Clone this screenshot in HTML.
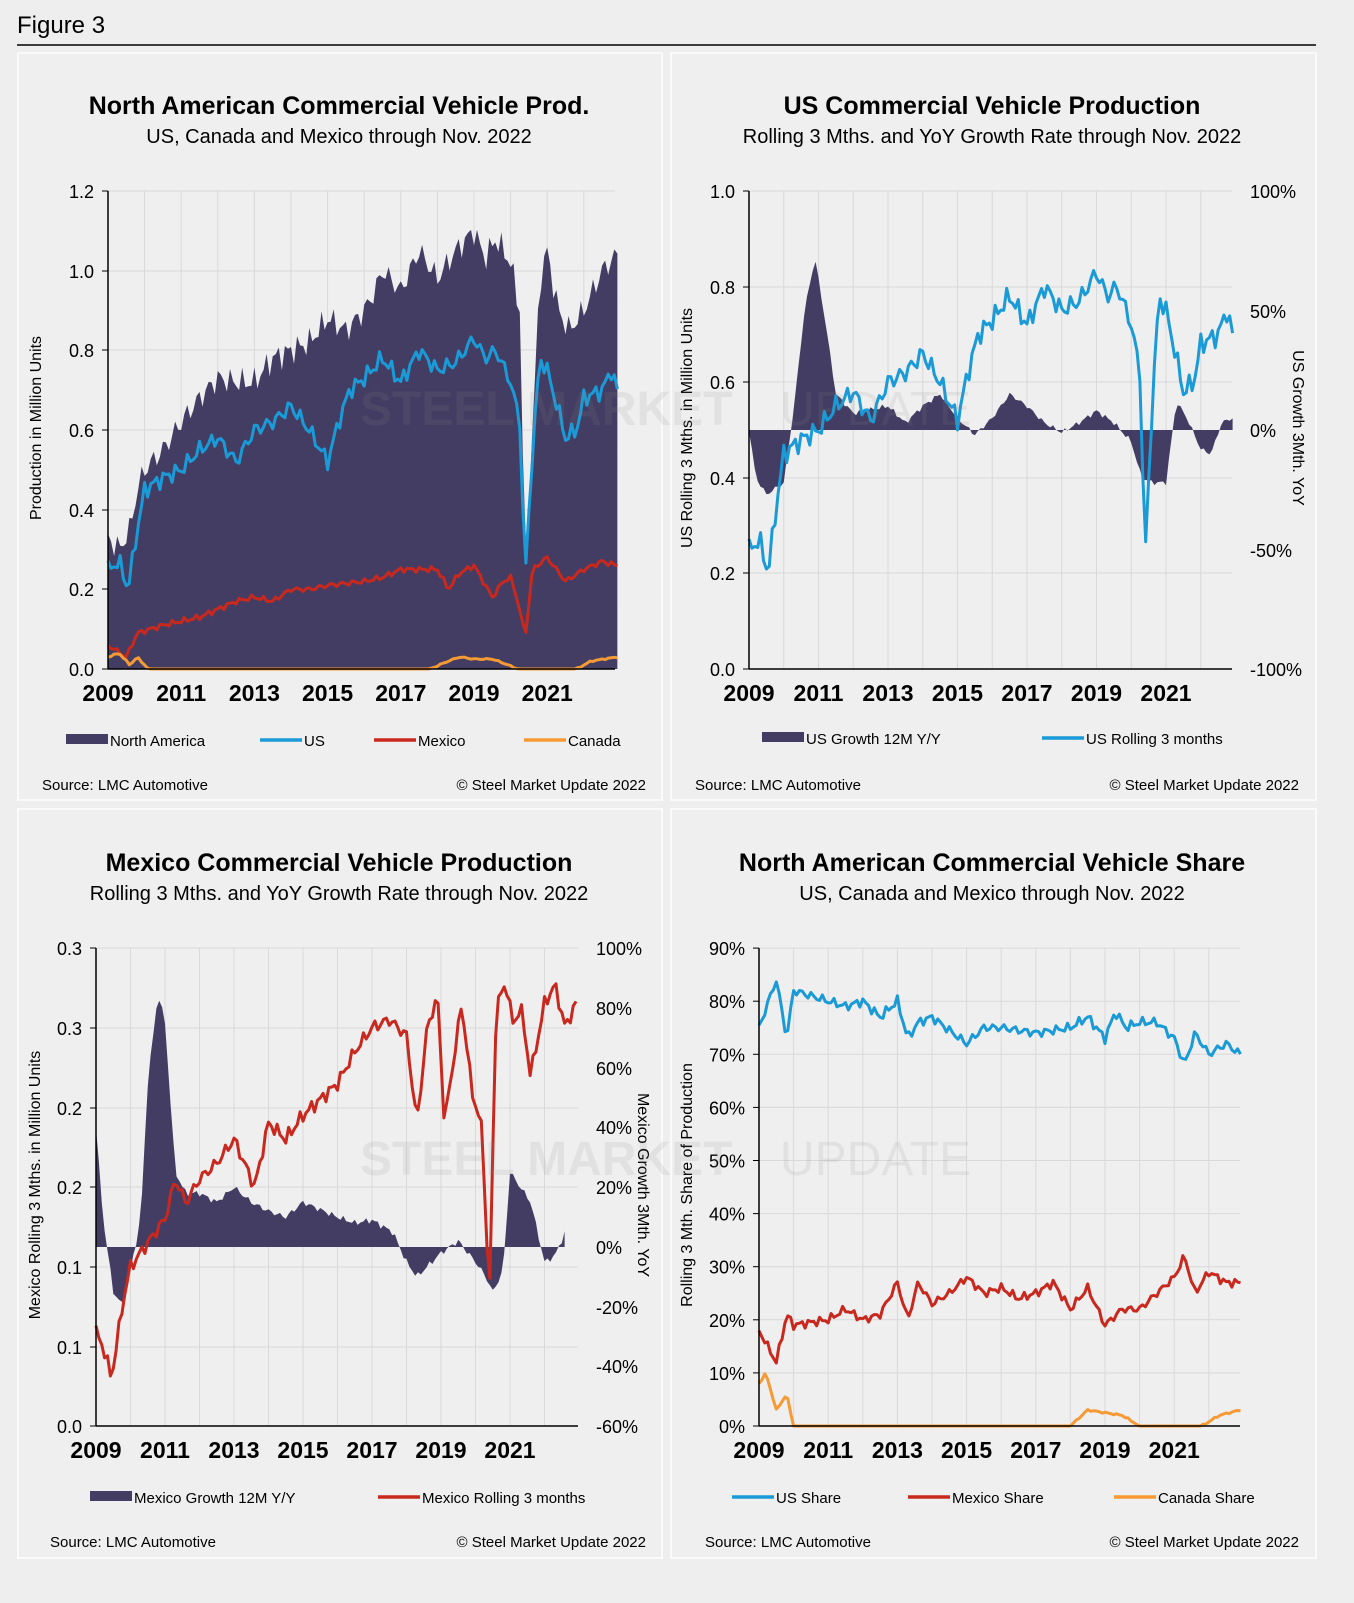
<!DOCTYPE html>
<html><head><meta charset="utf-8">
<style>
html,body{margin:0;padding:0;background:#eeeeee;}
svg{display:block;font-family:"Liberation Sans",Arial,sans-serif;}
</style></head>
<body>
<svg id="s" width="1354" height="1603" viewBox="0 0 1354 1603" xmlns="http://www.w3.org/2000/svg">
<rect width="1354" height="1603" fill="#eeeeee"/>
<text x="17" y="33" font-size="24" fill="#000">Figure 3</text>
<line x1="17" y1="45" x2="1316" y2="45" stroke="#000" stroke-width="1.5"/>
<rect x="18" y="53" width="644" height="747" fill="#efefef" stroke="#fafafa" stroke-width="2"/>
<rect x="671" y="53" width="645" height="747" fill="#efefef" stroke="#fafafa" stroke-width="2"/>
<rect x="18" y="809" width="644" height="749" fill="#efefef" stroke="#fafafa" stroke-width="2"/>
<rect x="671" y="809" width="645" height="749" fill="#efefef" stroke="#fafafa" stroke-width="2"/>
<g id="g"></g>
<g opacity="0.13" fill="#888" font-weight="bold">
<text x="360" y="425" font-size="48">STEEL MARKET</text>
<text x="780" y="425" font-size="48" font-weight="normal">UPDATE</text>
<text x="360" y="1175" font-size="48">STEEL MARKET</text>
<text x="780" y="1175" font-size="48" font-weight="normal">UPDATE</text>
</g>
</svg>
<script>
var NS="http://www.w3.org/2000/svg",G=document.getElementById('g');
function el(t,a,txt){var e=document.createElementNS(NS,t);for(var k in a)e.setAttribute(k,a[k]);if(txt!=null)e.textContent=txt;G.appendChild(e);return e;}
function txt(x,y,s,o){o=o||{};var a={x:x,y:y,'font-size':o.fs||18,fill:o.c||'#000','text-anchor':o.a||'middle'};if(o.b)a['font-weight']='bold';if(o.tr)a.transform=o.tr;if(o.op)a.opacity=o.op;return el('text',a,s);}
function series(keys,noise,seed,cap){var out=[];var n=Math.round((keys[keys.length-1][0]-keys[0][0])*12);
for(var i=0;i<=n;i++){var t=keys[0][0]+i/12;var j=0;while(j<keys.length-2&&keys[j+1][0]<t)j++;
var a=keys[j],b=keys[j+1];var f=(t-a[0])/(b[0]-a[0]);if(f<0)f=0;if(f>1)f=1;var v=a[1]+(b[1]-a[1])*f;
var nz=noise*(Math.sin(i*1.7+seed)*0.6+Math.sin(i*3.1+seed*2)*0.4);
if(cap!=null&&v<=cap+1e-9){nz=0;}v+=nz;if(cap!=null&&v<cap)v=cap;out.push([t,v]);}return out;}
function chart(c){
 var X=function(t){return c.x0+(t-2009)*c.py;};
 for(var y=2009;y<=2022;y++){var xx=X(y);if(y>2009)el('line',{x1:xx,y1:c.yt,x2:xx,y2:c.yb,stroke:'#d9d9d9','stroke-width':1});}
 c.lt.forEach(function(l){el('line',{x1:c.x0,y1:l[0],x2:c.xe,y2:l[0],stroke:'#d9d9d9','stroke-width':1});
  el('line',{x1:c.x0-6,y1:l[0],x2:c.x0,y2:l[0],stroke:'#000'});txt(c.x0-14,l[0]+7,l[1],{a:'end'});});
 if(c.rt)c.rt.forEach(function(l){txt(c.xe+18,l[0]+7,l[1],{a:'start'});});
 c.draw(X);
 el('line',{x1:c.x0,y1:c.yt,x2:c.x0,y2:c.yb,stroke:'#000','stroke-width':1.5});
 el('line',{x1:c.x0,y1:c.yb,x2:c.xe,y2:c.yb,stroke:'#000','stroke-width':1.5});
 for(var y=2009;y<=2021;y+=2)txt(X(y),c.yb+32,String(y),{fs:23,b:1});
}
function area(X,d,Y,base,col){var p='M'+X(d[0][0])+','+base;d.forEach(function(q){p+=' L'+X(q[0]).toFixed(1)+','+Y(q[1]).toFixed(1);});p+=' L'+X(d[d.length-1][0])+','+base+'Z';el('path',{d:p,fill:col||'#433d63'});}
function line(X,d,Y,col){var p='';d.forEach(function(q,i){p+=(i?' L':'M')+X(q[0]).toFixed(1)+','+Y(q[1]).toFixed(1);});el('path',{d:p,fill:'none',stroke:col,'stroke-width':3,'stroke-linejoin':'round'});}
function legend(items,y){items.forEach(function(it){if(it[3]=='a')el('rect',{x:it[0],y:y-6,width:42,height:10,fill:it[2]});else el('line',{x1:it[0],y1:y,x2:it[0]+42,y2:y,stroke:it[2],'stroke-width':3.5});txt(it[0]+44,y+6,it[1],{fs:15,a:'start'});});}
var BLUE='#1a9ad6',RED='#c8281e',ORG='#f59a35',PUR='#433d63';
var usK=[[2009,.25],[2009.3,.27],[2009.55,.2],[2009.8,.35],[2010,.45],[2010.5,.48],[2011,.5],[2011.5,.55],[2012,.58],[2012.5,.52],[2013,.6],[2013.5,.62],[2014,.66],[2014.5,.6],[2015,.52],[2015.3,.62],[2015.6,.7],[2016,.73],[2016.5,.78],[2017,.72],[2017.5,.8],[2018,.75],[2018.5,.77],[2019,.83],[2019.3,.78],[2019.6,.8],[2020,.72],[2020.25,.62],[2020.4,.23],[2020.6,.55],[2020.8,.78],[2021,.75],[2021.3,.65],[2021.5,.58],[2021.8,.6],[2022,.68],[2022.5,.7],[2022.75,.75],[2022.9,.7]];
var US=series(usK,0.025,1);
txt(339,114,'North American Commercial Vehicle Prod.',{fs:25,b:1});
txt(339,143,'US, Canada and Mexico through Nov. 2022',{fs:20});
txt(41,428,'Production in Million Units',{fs:16,tr:'rotate(-90 41 428)'});
(function(){var yt=191,yb=669,Y=function(v){return yb-(v/1.2)*(yb-yt);};
chart({x0:108,xe:615,py:36.6,yt:yt,yb:yb,lt:[[191,'1.2'],[271,'1.0'],[350,'0.8'],[430,'0.6'],[510,'0.4'],[589,'0.2'],[669,'0.0']],draw:function(X){
 var na=series([[2009,.33],[2009.3,.3],[2009.6,.35],[2009.8,.45],[2010,.5],[2010.5,.55],[2011,.62],[2011.5,.68],[2012,.73],[2012.5,.72],[2013,.72],[2013.5,.78],[2014,.8],[2014.5,.82],[2015,.88],[2015.5,.85],[2016,.9],[2016.3,.95],[2016.5,1.0],[2017,.95],[2017.5,1.05],[2018,.98],[2018.5,1.05],[2019,1.1],[2019.3,1.03],[2019.6,1.08],[2020,1.02],[2020.25,.9],[2020.4,.25],[2020.6,.6],[2020.8,.98],[2021,1.05],[2021.3,.9],[2021.6,.85],[2022,.9],[2022.5,1.0],[2022.9,1.04]],0.04,2);
 area(X,na,Y,yb,PUR);line(X,US,Y,BLUE);
 line(X,series([[2009,.06],[2009.5,.03],[2009.8,.09],[2010.5,.11],[2011,.12],[2011.5,.13],[2012,.15],[2012.5,.17],[2013,.18],[2013.5,.17],[2014,.2],[2014.5,.2],[2015,.21],[2016,.22],[2016.5,.23],[2017,.25],[2017.5,.25],[2018,.25],[2018.3,.2],[2018.6,.24],[2019,.26],[2019.5,.18],[2019.8,.22],[2020,.23],[2020.2,.17],[2020.4,.08],[2020.6,.25],[2021,.28],[2021.5,.22],[2022,.25],[2022.5,.27],[2022.9,.26]],0.008,3),Y,RED);
 line(X,series([[2009,.03],[2009.3,.04],[2009.6,.01],[2009.8,.03],[2010.1,0],[2017.8,0],[2018.3,.02],[2018.6,.03],[2019,.025],[2019.5,.025],[2019.8,.015],[2020.2,0],[2021.8,0],[2022.2,.02],[2022.9,.03]],0.002,4,0),Y,ORG);
}});})();
legend([[66,'North America',PUR,'a'],[260,'US',BLUE],[374,'Mexico',RED],[524,'Canada',ORG]],740);
txt(42,790,'Source: LMC Automotive',{fs:15,a:'start'});txt(646,790,'© Steel Market Update 2022',{fs:15,a:'end'});
txt(992,114,'US Commercial Vehicle Production',{fs:25,b:1});
txt(992,143,'Rolling 3 Mths. and YoY Growth Rate through Nov. 2022',{fs:20});
txt(692,428,'US Rolling 3 Mths. in Million Units',{fs:16,tr:'rotate(-90 692 428)'});
txt(1293,428,'US Growth 3Mth. YoY',{fs:16,tr:'rotate(90 1293 428)'});
(function(){var yt=191,yb=669,Y=function(v){return yb-v*(yb-yt);},R=function(p){return 430-p/100*239;};
chart({x0:749,xe:1232,py:34.75,yt:yt,yb:yb,lt:[[191,'1.0'],[287,'0.8'],[382,'0.6'],[478,'0.4'],[573,'0.2'],[669,'0.0']],rt:[[191,'100%'],[311,'50%'],[430,'0%'],[550,'-50%'],[669,'-100%']],draw:function(X){
 var g=series([[2009,0],[2009.2,-20],[2009.5,-27],[2010,-22],[2010.3,10],[2010.6,50],[2010.9,72],[2011.2,45],[2011.5,15],[2012,7],[2013,10],[2013.5,3],[2014,10],[2014.5,15],[2015,5],[2015.5,-2],[2016,5],[2016.5,15],[2017,10],[2017.5,3],[2018,-1],[2018.5,3],[2019,8],[2019.5,3],[2020,-5],[2020.3,-20],[2020.6,-22],[2021,-22],[2021.3,12],[2021.6,5],[2022,-8],[2022.3,-10],[2022.6,3],[2022.9,5]],1.2,5);
 area(X,g,R,430,PUR);line(X,US,Y,BLUE);
}});})();
legend([[762,'US Growth 12M Y/Y',PUR,'a'],[1042,'US Rolling 3 months',BLUE]],738);
txt(695,790,'Source: LMC Automotive',{fs:15,a:'start'});txt(1299,790,'© Steel Market Update 2022',{fs:15,a:'end'});
txt(339,871,'Mexico Commercial Vehicle Production',{fs:25,b:1});
txt(339,900,'Rolling 3 Mths. and YoY Growth Rate through Nov. 2022',{fs:20});
txt(40,1185,'Mexico Rolling 3 Mths. in Million Units',{fs:16,tr:'rotate(-90 40 1185)'});
txt(638,1185,'Mexico Growth 3Mth. YoY',{fs:16,tr:'rotate(90 638 1185)'});
(function(){var yt=948,yb=1426,Y=function(v){return yb-v/0.3*(yb-yt);},R=function(p){return 1247-p/20*59.75;};
chart({x0:96,xe:578,py:34.5,yt:yt,yb:yb,lt:[[948,'0.3'],[1028,'0.3'],[1108,'0.2'],[1187,'0.2'],[1267,'0.1'],[1347,'0.1'],[1426,'0.0']],rt:[[948,'100%'],[1008,'80%'],[1068,'60%'],[1127,'40%'],[1187,'20%'],[1247,'0%'],[1307,'-20%'],[1366,'-40%'],[1426,'-60%']],draw:function(X){
 var g=series([[2009,40],[2009.2,10],[2009.5,-15],[2009.8,-20],[2010,-8],[2010.3,10],[2010.5,55],[2010.8,85],[2011,75],[2011.3,25],[2011.6,18],[2012,18],[2012.5,15],[2013,20],[2013.5,15],[2014,12],[2014.5,10],[2015,15],[2016,10],[2016.5,8],[2017,9],[2017.6,5],[2018,-5],[2018.3,-10],[2019,-2],[2019.5,2],[2020,-5],[2020.3,-10],[2020.5,-15],[2020.8,-8],[2021,25],[2021.3,20],[2021.6,15],[2022,-5],[2022.3,-3],[2022.6,5]],1.2,6);
 area(X,g,R,1247,PUR);
 line(X,series([[2009,.059],[2009.2,.05],[2009.45,.03],[2009.8,.08],[2010,.1],[2010.5,.115],[2011,.13],[2011.3,.155],[2011.6,.14],[2012,.155],[2012.5,.165],[2013,.18],[2013.3,.165],[2013.6,.15],[2014,.19],[2014.5,.18],[2015,.195],[2015.5,.205],[2016,.215],[2016.5,.235],[2017,.25],[2017.5,.255],[2018,.245],[2018.3,.19],[2018.6,.25],[2018.9,.27],[2019.1,.19],[2019.3,.22],[2019.6,.265],[2019.9,.21],[2020.2,.185],[2020.4,.076],[2020.6,.265],[2020.9,.277],[2021.1,.25],[2021.3,.265],[2021.6,.22],[2022,.265],[2022.3,.277],[2022.6,.25],[2022.9,.265]],0.005,7),Y,RED);
}});})();
legend([[90,'Mexico Growth 12M Y/Y',PUR,'a'],[378,'Mexico Rolling 3 months',RED]],1497);
txt(50,1547,'Source: LMC Automotive',{fs:15,a:'start'});txt(646,1547,'© Steel Market Update 2022',{fs:15,a:'end'});
txt(992,871,'North American Commercial Vehicle Share',{fs:25,b:1});
txt(992,900,'US, Canada and Mexico through Nov. 2022',{fs:20});
txt(692,1185,'Rolling 3 Mth. Share of Production',{fs:16,tr:'rotate(-90 692 1185)'});
(function(){var yt=948,yb=1426,Y=function(v){return yb-v/90*(yb-yt);};var lt=[];for(var i=0;i<=9;i++)lt.push([yb-i*53.1,(i*10)+'%']);
chart({x0:759,xe:1240,py:34.6,yt:yt,yb:yb,lt:lt,draw:function(X){
 line(X,series([[2009,75],[2009.5,84],[2009.8,73],[2010,82],[2011,80],[2011.5,79],[2012,80],[2012.5,77],[2013,80],[2013.3,73],[2013.6,76],[2014,77],[2015,72],[2015.5,75],[2016,75],[2017,74],[2018,75],[2018.5,77],[2019,73],[2019.3,78],[2019.6,75],[2020,76],[2020.5,76],[2021,73],[2021.3,68],[2021.6,74],[2022,70],[2022.5,72],[2022.9,70]],1.0,8),Y,BLUE);
 line(X,series([[2009,18],[2009.5,12],[2009.8,21],[2010,19],[2011,20],[2011.5,22],[2012,20],[2012.5,21],[2013,27],[2013.3,20],[2013.6,27],[2014,23],[2014.5,25],[2015,28],[2015.5,25],[2016,26],[2016.5,24],[2017,25],[2017.5,27],[2018,22],[2018.5,26],[2019,19],[2019.5,22],[2020,22],[2020.5,25],[2021,28],[2021.3,32],[2021.6,25],[2022,29],[2022.5,27],[2022.9,27]],0.9,9),Y,RED);
 line(X,series([[2009,8],[2009.2,10],[2009.5,3],[2009.8,6],[2010,0],[2018,0],[2018.5,3],[2019,2.5],[2019.5,2],[2020,0],[2021.8,0],[2022.3,2],[2022.9,3]],0.2,10,0),Y,ORG);
}});})();
legend([[732,'US Share',BLUE],[908,'Mexico Share',RED],[1114,'Canada Share',ORG]],1497);
txt(705,1547,'Source: LMC Automotive',{fs:15,a:'start'});txt(1299,1547,'© Steel Market Update 2022',{fs:15,a:'end'});
</script>
</body></html>
